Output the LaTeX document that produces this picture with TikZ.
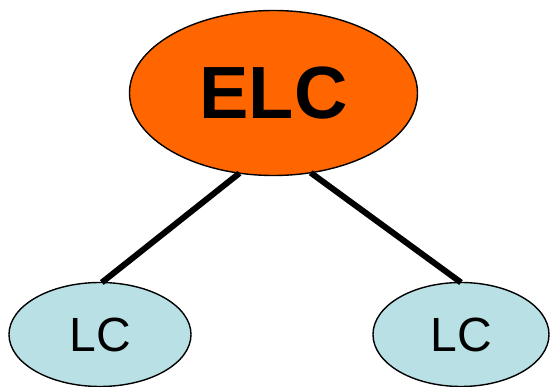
\documentclass[tikz,border=0pt]{standalone}
\usepackage{fontspec}
\setmainfont{Liberation Sans}
\usetikzlibrary{shapes.geometric}
\definecolor{elcorange}{HTML}{FF6600}
\definecolor{lcblue}{HTML}{B9E0E5}
\begin{document}
\begin{tikzpicture}[x=1pt,y=-1pt,
  bigell/.style={ellipse,draw=black,line width=1.4pt,fill=elcorange,inner sep=0pt,outer sep=0pt,
    minimum width=288pt,minimum height=165pt,font=\fontsize{74}{80}\selectfont\bfseries},
  smallell/.style={ellipse,draw=black,line width=1.4pt,fill=lcblue,inner sep=0pt,outer sep=0pt,
    minimum width=182pt,minimum height=104pt,font=\fontsize{48}{54}\selectfont},
  link/.style={line width=6pt,draw=black}]
\useasboundingbox (0,0) rectangle (550,387);
\node[bigell] (elc) at (273.5,93) {ELC};
\node[smallell] (lc1) at (100,334.5) {LC};
\node[smallell,minimum width=176pt] (lc2) at (461,334.5) {LC};
\draw[link] (elc.247) -- (lc1.88);
\draw[link] (elc.295) -- (lc2.north);
\end{tikzpicture}
\end{document}
